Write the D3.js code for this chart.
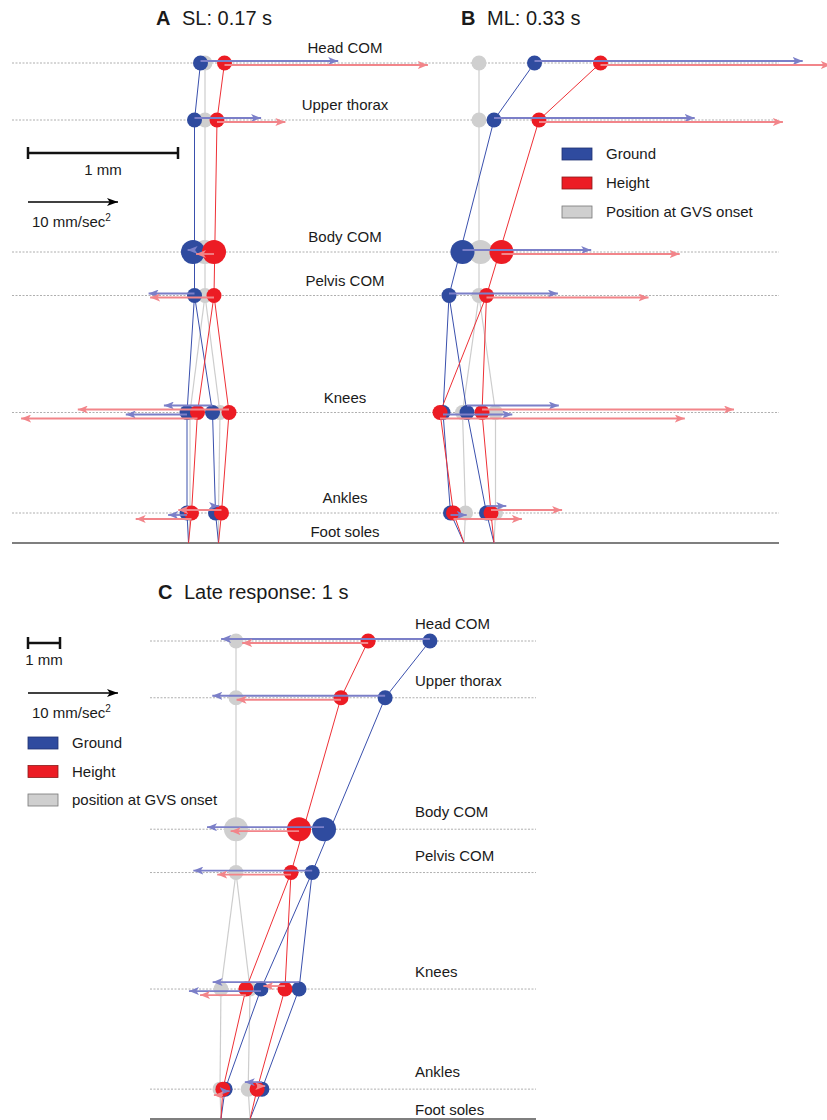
<!DOCTYPE html>
<html><head><meta charset="utf-8">
<script src="https://cdn.jsdelivr.net/npm/d3@7"></script>
<style>
body{margin:0;background:#fff}
svg{display:block}
text{font-family:"Liberation Sans",Arial,Helvetica,sans-serif;fill:#1a1a1a}
</style>
</head><body>
<svg id="chart" width="827" height="1120"></svg>
<script>
// ---------- shared structure ----------
const levelNames   = ["Head COM","Upper thorax","Body COM","Pelvis COM","Knees","Ankles","Foot soles"];
const levelHeights = [160, 141, 97, 82.5, 43.5, 10, 0];            // cm above foot soles
const joints       = ["Head COM","Upper thorax","Body COM","Pelvis COM","Left knee","Right knee","Left ankle","Right ankle","Left sole","Right sole"];
const jointLevel   = [0,1,2,3,4,4,5,5,6,6];
const jointSide    = [0,0,0,0,1,2,1,2,1,2];                         // 0 trunk, 1 left, 2 right
const segments     = [[0,1],[1,3],[3,4],[3,5],[4,6],[5,7],[6,8],[7,9]];
const seriesNames  = ["Ground","Height"];

// ---------- Panel A: SL 0.17 s (positions mm, accelerations mm/s^2) ----------
const aGroundPos = [-0.03,-0.07,-0.08,-0.07,-0.12, 0.05,-0.12, 0.07,-0.11, 0.09];
const aHeightPos = [ 0.13, 0.08, 0.06, 0.06,-0.05, 0.16,-0.09, 0.11,-0.11, 0.09];
const aOnsetPos  = [ 0.00, 0.00, 0.00, 0.00,-0.10, 0.10,-0.10, 0.09,-0.11, 0.09];
const aGroundAcc = [15.3, 7.4,-0.6,-5.1,-6.8,-5.4,-2.1, 0.4, null, null];
const aHeightAcc = [22.6, 7.6,-2.0,-7.1,-19.6,-16.8,-6.2,-4.8, null, null];

// ---------- Panel B: ML 0.33 s ----------
const bGroundPos = [ 0.37, 0.10,-0.11,-0.20,-0.24,-0.08,-0.19, 0.05,-0.10, 0.10];
const bHeightPos = [ 0.81, 0.40, 0.15, 0.05,-0.26, 0.02,-0.17, 0.08,-0.10, 0.10];
const bOnsetPos  = [ 0.00, 0.00, 0.01, 0.00,-0.11, 0.11,-0.09, 0.11,-0.10, 0.10];
const bGroundAcc = [29.8,22.3,14.3,12.1, 7.7,10.2, 1.8, 2.2, null, null];
const bHeightAcc = [25.6,27.1,19.8,18.0,27.2,28.0, 7.6, 7.9, null, null];

// ---------- Panel C: Late response 1 s ----------
const cGroundPos = [ 6.06, 4.66, 2.75, 2.38, 0.78, 1.97,-0.34, 0.81,-0.47, 0.44];
const cHeightPos = [ 4.13, 3.28, 1.97, 1.72, 0.31, 1.53,-0.41, 0.66,-0.47, 0.44];
const cOnsetPos  = [ 0.00, 0.00, 0.00, 0.00,-0.47, 0.44,-0.50, 0.38,-0.47, 0.44];
const cGroundAcc = [-23.2,-19.2,-13.0,-13.2,-8.0,-9.6, 0.5,-1.9, null, null];
const cHeightAcc = [-14.0,-11.6,-7.6,-8.2,-5.1,-2.4,-1.0, 0.9, null, null];

const legendLabelsB = ["Ground","Height","Position at GVS onset"];
const legendLabelsC = ["Ground","Height","position at GVS onset"];

// ---------- styles ----------
const COL = {
  Ground:{fill:"#2f4b9f", line:"#3a50ad", arrow:"#7b7fc8", sw:"#1f3070"},
  Height:{fill:"#ec1c24", line:"#ee3036", arrow:"#f2858a", sw:"#8a1a1a"},
  Onset :{fill:"#cfcfcf", line:"#cdcdcd", sw:"#777"}
};

const svg = d3.select("#chart");
const defs = svg.append("defs");
function marker(id, color, w, h){
  defs.append("marker").attr("id",id).attr("viewBox",`0 0 ${w} ${h}`)
    .attr("refX",w).attr("refY",h/2).attr("markerWidth",w).attr("markerHeight",h)
    .attr("markerUnits","userSpaceOnUse").attr("orient","auto")
    .append("path").attr("d",`M0,0L${w},${h/2}L0,${h}L${w*0.25},${h/2}Z`).attr("fill",color);
}
marker("mG", COL.Ground.arrow, 10, 8);
marker("mH", COL.Height.arrow, 10, 8);
marker("mK", "#000", 11, 8);

const accScale = d3.scaleLinear().domain([0,10]).range([0,90]);   // 10 mm/s^2 = 90 px

function drawGuides(yScale, x0, x1, labelX, anchor, gap, soleGap){
  const g = svg.append("g");
  levelNames.forEach((name,i)=>{
    const y = yScale(levelHeights[i]);
    const last = i === levelNames.length-1;
    g.append("line").attr("x1",x0).attr("x2",x1).attr("y1",y).attr("y2",y)
      .attr("stroke", last ? "#555" : "#9a9a9a")
      .attr("stroke-width", last ? 1.3 : 0.8)
      .attr("stroke-dasharray", last ? null : "2,1.5");
    g.append("text").attr("x",labelX).attr("y", y - (last ? soleGap : gap))
      .attr("text-anchor",anchor).attr("font-size",15).text(name);
  });
}

function drawPanel(cfg){
  const {x, y} = cfg;
  const g = svg.append("g");
  const px = (arr,j)=>x(arr[j]);
  const py = j=>y(levelHeights[jointLevel[j]]);
  const series = [
    {key:"Onset", pos:cfg.onset},
    {key:"Ground", pos:cfg.ground, acc:cfg.gAcc},
    {key:"Height", pos:cfg.height, acc:cfg.hAcc}
  ];
  series.forEach(s=>{
    g.append("g").selectAll("line").data(segments).join("line")
      .attr("x1",d=>px(s.pos,d[0])).attr("y1",d=>py(d[0]))
      .attr("x2",d=>px(s.pos,d[1])).attr("y2",d=>py(d[1]))
      .attr("stroke",COL[s.key].line).attr("stroke-width",s.key==="Onset"?1.2:1);
  });
  const jointIdx = d3.range(8);
  series.forEach(s=>{
    g.append("g").selectAll("circle").data(jointIdx).join("circle")
      .attr("cx",j=>px(s.pos,j)).attr("cy",j=>py(j))
      .attr("r",j=>j===2?12:7.5).attr("fill",COL[s.key].fill);
  });
  const off = {Ground:[-2,2,-7], Height:[2,6,-3]};
  series.slice(1).forEach(s=>{
    g.append("g").selectAll("line").data(jointIdx.filter(j=>s.acc[j]!==null)).join("line")
      .attr("x1",j=>px(s.pos,j))
      .attr("x2",j=>px(s.pos,j)+(s.acc[j]>=0?1:-1)*accScale(Math.abs(s.acc[j])))
      .attr("y1",j=>py(j)+off[s.key][jointSide[j]])
      .attr("y2",j=>py(j)+off[s.key][jointSide[j]])
      .attr("stroke",COL[s.key].arrow).attr("stroke-width",1.8)
      .attr("marker-end",`url(#${s.key==="Ground"?"mG":"mH"})`);
  });
}

function drawTitle(x, yb, letter, rest){
  svg.append("text").attr("x",x).attr("y",yb).attr("font-size",20).attr("font-weight","bold").text(letter);
  svg.append("text").attr("x",x+26).attr("y",yb).attr("font-size",20).text(rest);
}

function drawScales(xs, left, barY, arrowY){
  const L = xs(1) - xs(0);
  const g = svg.append("g");
  g.append("line").attr("x1",left).attr("x2",left+L).attr("y1",barY).attr("y2",barY).attr("stroke","#111").attr("stroke-width",2.5);
  [left,left+L].forEach(v=>g.append("line").attr("x1",v).attr("x2",v).attr("y1",barY-6).attr("y2",barY+6).attr("stroke","#111").attr("stroke-width",2.5));
  g.append("text").attr("x",left+L/2).attr("y",barY+22).attr("text-anchor","middle").attr("font-size",15).text("1 mm");
  g.append("line").attr("x1",left).attr("x2",left+accScale(10)).attr("y1",arrowY).attr("y2",arrowY)
    .attr("stroke","#000").attr("stroke-width",1.5).attr("marker-end","url(#mK)");
  const t = g.append("text").attr("x",left+4).attr("y",arrowY+25).attr("font-size",15);
  t.append("tspan").text("10 mm/sec");
  t.append("tspan").attr("font-size",10).attr("dy",-6).text("2");
}

function drawLegend(x0, yc, labels, step){
  const keys = ["Ground","Height","Onset"];
  const g = svg.append("g");
  keys.forEach((k,i)=>{
    g.append("rect").attr("x",x0).attr("y",yc+i*step-6).attr("width",30).attr("height",12)
      .attr("fill",COL[k].fill).attr("stroke",COL[k].sw).attr("stroke-width",0.8);
    g.append("text").attr("x",x0+44).attr("y",yc+i*step+5).attr("font-size",15).text(labels[i]);
  });
}

// ---------- Top (A, B) ----------
const yTop = d3.scaleLinear().domain([0,160]).range([543,63]);
drawGuides(yTop, 12, 779, 345, "middle", 10, 6);
const xA = d3.scaleLinear().domain([0,1]).range([205,355]);   // 1 mm = 150 px
const xB = d3.scaleLinear().domain([0,1]).range([479,629]);
drawPanel({x:xA, y:yTop, ground:aGroundPos, height:aHeightPos, onset:aOnsetPos, gAcc:aGroundAcc, hAcc:aHeightAcc});
drawPanel({x:xB, y:yTop, ground:bGroundPos, height:bHeightPos, onset:bOnsetPos, gAcc:bGroundAcc, hAcc:bHeightAcc});
drawTitle(156, 25, "A", "SL: 0.17 s");
drawTitle(461, 25, "B", "ML: 0.33 s");
drawScales(xA, 28, 153, 202);
drawLegend(562, 154, legendLabelsB, 29);

// ---------- Bottom (C) ----------
const yBot = d3.scaleLinear().domain([0,160]).range([1119,641]);
drawGuides(yBot, 150, 536, 415, "start", 12, 4);
const xC = d3.scaleLinear().domain([0,1]).range([236,268]);   // 1 mm = 32 px
drawPanel({x:xC, y:yBot, ground:cGroundPos, height:cHeightPos, onset:cOnsetPos, gAcc:cGroundAcc, hAcc:cHeightAcc});
drawTitle(158, 599, "C", "Late response: 1 s");
drawScales(xC, 28, 643, 693);
drawLegend(28, 743, legendLabelsC, 28.5);
</script>
</body></html>
